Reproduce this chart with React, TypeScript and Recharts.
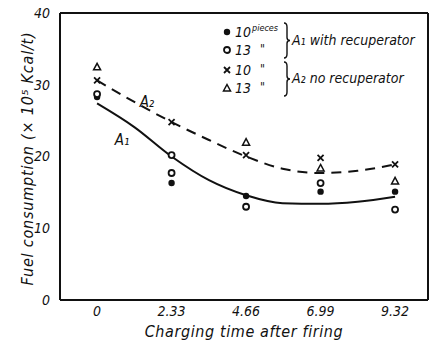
import { ComposedChart, Line, Scatter, XAxis, YAxis, ReferenceLine, ReferenceDot, Legend, Label } from 'recharts';

const font = "'DejaVu Sans Condensed', 'Liberation Sans Narrow', sans-serif";
const ink = '#111';

const xTicks = [0, 2.33, 4.66, 6.99, 9.32];
const yTicks = [0, 10, 20, 30, 40];
const xDomain = [-1.16, 10.35];

// fitted curves at half steps
const curveX = [0, 1.165, 2.33, 3.5, 4.66, 5.8, 6.99, 8.15, 9.32];
const curveA1 = [27.4, 24.1, 20.0, 16.7, 14.6, 13.5, 13.4, 13.7, 14.4];
const curveA2 = [30.6, 27.6, 24.8, 22.3, 20.0, 18.3, 17.7, 18.0, 18.9];

// measured points
const a1TenX = [0, 2.33, 4.66, 6.99, 9.32];
const a1TenY = [28.3, 16.3, 14.5, 15.1, 15.1];
const a1ThirteenX = [0, 2.33, 2.33, 4.66, 6.99, 9.32];
const a1ThirteenY = [28.7, 20.2, 17.7, 13.0, 16.3, 12.6];
const a2TenX = [0, 2.33, 4.66, 6.99, 9.32];
const a2TenY = [30.6, 24.8, 20.2, 19.8, 18.9];
const a2ThirteenX = [0, 4.66, 6.99, 9.32];
const a2ThirteenY = [32.5, 22.0, 18.4, 16.6];

const zip = (xs: number[], ys: number[]) => xs.map((x, i) => ({ x, y: ys[i] }));

const FilledDot = ({ cx, cy }: any) => <circle cx={cx} cy={cy} r={3.2} fill={ink} />;
const OpenDot = ({ cx, cy }: any) => <circle cx={cx} cy={cy} r={3} fill="#fff" stroke={ink} strokeWidth={1.8} />;
const Cross = ({ cx, cy }: any) => (
  <path d={`M${cx - 3},${cy - 3}L${cx + 3},${cy + 3}M${cx + 3},${cy - 3}L${cx - 3},${cy + 3}`} stroke={ink} strokeWidth={1.8} />
);
const Tri = ({ cx, cy }: any) => (
  <path d={`M${cx},${cy - 3.5}L${cx + 3.5},${cy + 3}L${cx - 3.5},${cy + 3}Z`} fill="#fff" stroke={ink} strokeWidth={1.5} />
);

const legendRows = [
  { shape: FilledDot, n: '10', extra: 'pieces' },
  { shape: OpenDot, n: '13', extra: '"' },
  { shape: Cross, n: '10', extra: '"' },
  { shape: Tri, n: '13', extra: '"' },
];
const legendRowY = [12, 30, 50, 68];

const brace = (x: number, y0: number, y1: number) => {
  const m = (y0 + y1) / 2;
  return `M${x},${y0} Q${x + 3},${y0} ${x + 3},${y0 + 4} L${x + 3},${m - 3} Q${x + 3},${m} ${x + 6},${m} Q${x + 3},${m} ${x + 3},${m + 3} L${x + 3},${y1 - 4} Q${x + 3},${y1} ${x},${y1}`;
};

const LegendBox = () => (
  <svg width={205} height={80} style={{ fontFamily: font, fontStyle: 'italic', fill: ink }}>
    {legendRows.map((r, i) => {
      const y = legendRowY[i];
      const S = r.shape;
      return (
        <g key={i}>
          <S cx={5} cy={y} />
          <text x={13} y={y + 5} fontSize={14}>{r.n}</text>
          {r.extra === 'pieces' ? (
            <text x={30} y={y - 1} fontSize={9}>pieces</text>
          ) : (
            <text x={38} y={y + 3} fontSize={12}>{r.extra}</text>
          )}
        </g>
      );
    })}
    <path d={brace(62, 3, 38)} fill="none" stroke={ink} strokeWidth={1.4} />
    <path d={brace(62, 42, 76)} fill="none" stroke={ink} strokeWidth={1.4} />
    <text x={70} y={25} fontSize={14}>A₁ with recuperator</text>
    <text x={70} y={63} fontSize={14}>A₂ no recuperator</text>
  </svg>
);

const tickStyle = { fill: ink, fontSize: 14, fontStyle: 'italic', fontFamily: font };

export default function App() {
  return (
    <div style={{ position: 'absolute', left: 0, top: 0, background: '#fff' }}>
      <ComposedChart width={433} height={342} margin={{ top: 13, right: 5, bottom: 0, left: 0 }}>
        <XAxis
          type="number"
          dataKey="x"
          domain={xDomain}
          ticks={xTicks}
          tickFormatter={(v) => String(v)}
          height={42}
          tickLine={false}
          axisLine={{ stroke: ink, strokeWidth: 2 }}
          tickMargin={0}
          tick={tickStyle}
          allowDataOverflow
        >
          <Label
            value="Charging time after firing"
            position="insideBottom"
            offset={5}
            fill={ink}
            fontSize={16}
            fontStyle="italic"
            fontFamily={font}
            letterSpacing={0.6}
          />
        </XAxis>
        <YAxis
          type="number"
          dataKey="y"
          domain={[0, 40]}
          ticks={yTicks}
          width={60}
          tickLine={false}
          axisLine={{ stroke: ink, strokeWidth: 2 }}
          tickMargin={4}
          tick={tickStyle}
        >
          <Label
            value="Fuel consumption  (× 10⁵ Kcal/t)"
            angle={-90}
            position="insideLeft"
            offset={27}
            dy={2}
            fill={ink}
            fontSize={16}
            fontStyle="italic"
            fontFamily={font}
            letterSpacing={0.8}
            textAnchor="middle"
          />
        </YAxis>
        <ReferenceLine y={40} stroke={ink} strokeWidth={2} />
        <ReferenceLine x={xDomain[1]} stroke={ink} strokeWidth={2} />
        <Line data={zip(curveX, curveA1)} dataKey="y" type="monotone" stroke={ink} strokeWidth={2} dot={false} isAnimationActive={false} />
        <Line data={zip(curveX, curveA2)} dataKey="y" type="monotone" stroke={ink} strokeWidth={2} strokeDasharray="10 7" dot={false} isAnimationActive={false} />
        <Scatter data={zip(a1TenX, a1TenY)} shape={FilledDot} isAnimationActive={false} />
        <Scatter data={zip(a1ThirteenX, a1ThirteenY)} shape={OpenDot} isAnimationActive={false} />
        <Scatter data={zip(a2TenX, a2TenY)} shape={Cross} isAnimationActive={false} />
        <Scatter data={zip(a2ThirteenX, a2ThirteenY)} shape={Tri} isAnimationActive={false} />
        <ReferenceDot x={0.78} y={22.3} r={0} label={{ value: 'A₁', fill: ink, fontSize: 15, fontStyle: 'italic', fontFamily: font }} />
        <ReferenceDot x={1.56} y={27.6} r={0} label={{ value: 'A₂', fill: ink, fontSize: 15, fontStyle: 'italic', fontFamily: font }} />
        <Legend
          layout="vertical"
          align="center"
          verticalAlign="middle"
          content={() => <LegendBox />}
          wrapperStyle={{ left: 222, top: 20, width: 205, height: 80 }}
        />
      </ComposedChart>
    </div>
  );
}
